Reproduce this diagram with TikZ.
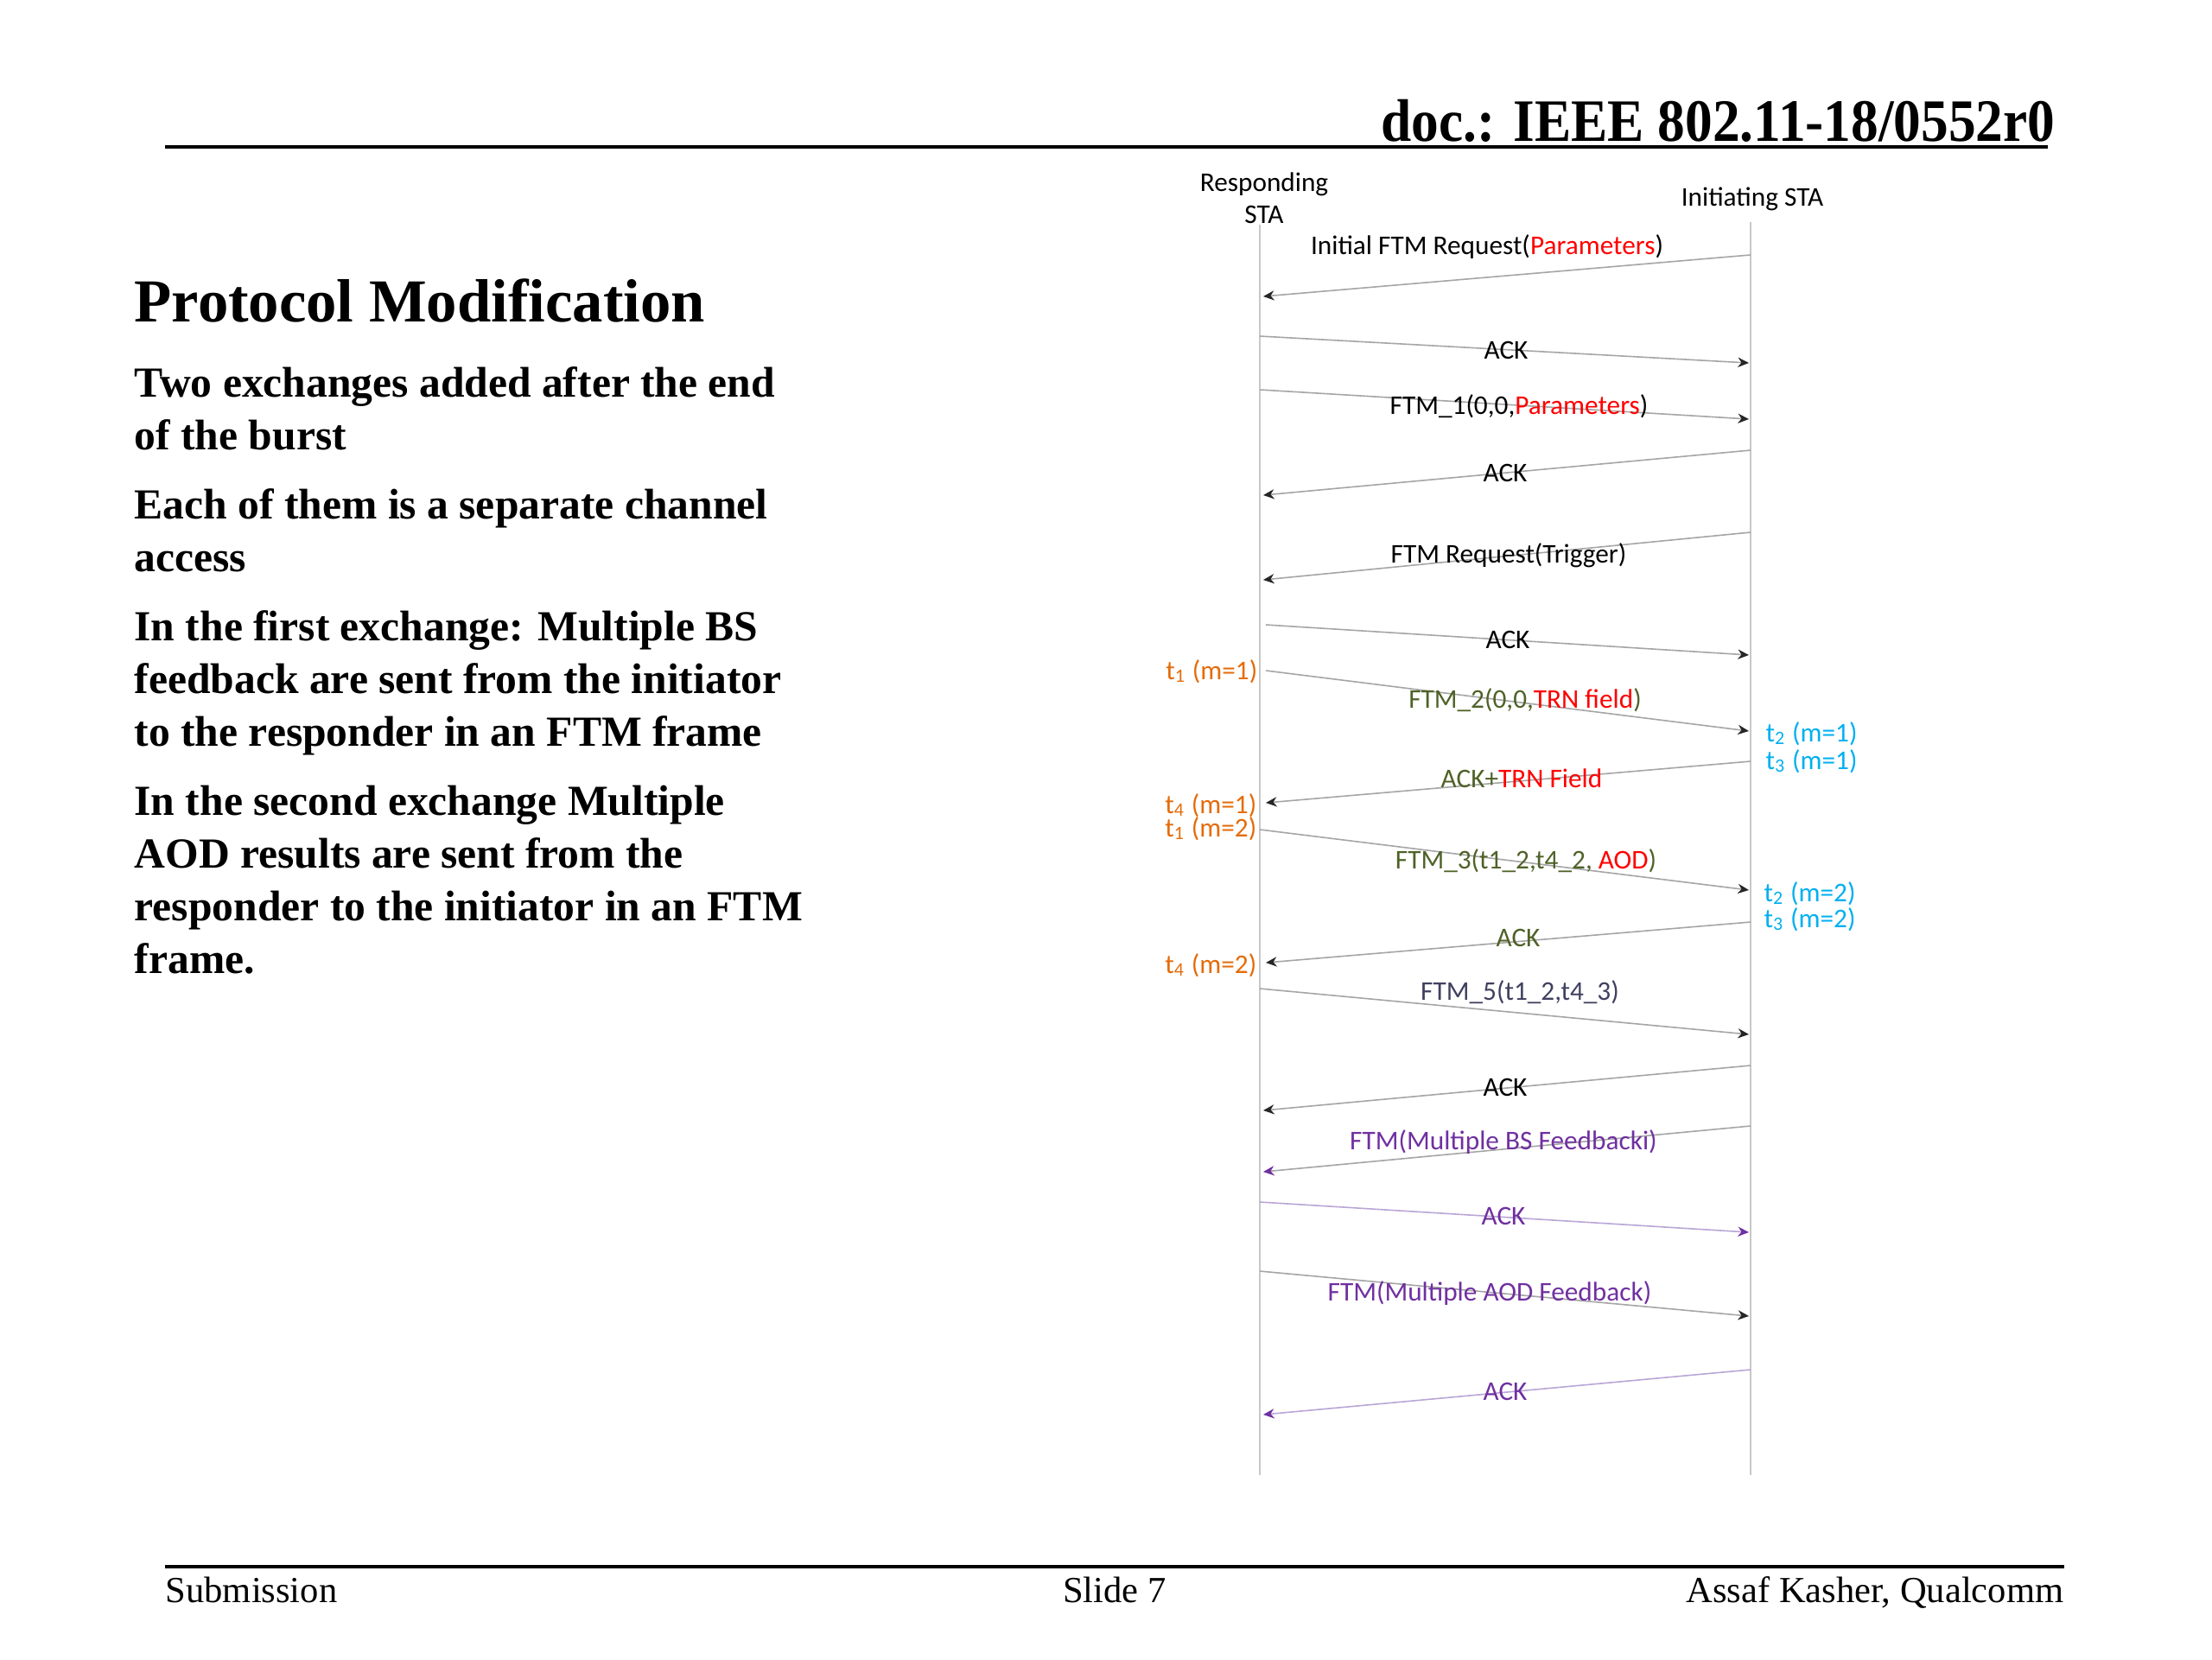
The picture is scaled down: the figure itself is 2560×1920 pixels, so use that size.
\documentclass[tikz,border=0pt]{standalone}
\usepackage{fontspec}
\setmainfont{Liberation Serif}
\newfontfamily\diagfont{Carlito}
\newfontfamily\narrowserif[FakeStretch=0.91]{Liberation Serif}
\usetikzlibrary{arrows.meta,positioning}

\definecolor{olivetxt}{RGB}{79,98,40}
\definecolor{orangetxt}{RGB}{228,108,10}
\definecolor{cyantxt}{RGB}{0,176,240}
\definecolor{slatetxt}{RGB}{64,64,96}
\definecolor{purpletxt}{RGB}{112,48,160}
\definecolor{lifegray}{RGB}{200,200,200}
\definecolor{msggray}{RGB}{165,165,165}
\definecolor{lilac}{RGB}{185,165,215}

\begin{document}
\begin{tikzpicture}[x=0.01cm, y=-0.01cm,
    lifeline/.style={draw=lifegray, line width=0.5pt},
    msg/.style={draw=msggray, line width=0.45pt, -{Stealth[length=3.6pt,width=3.2pt,color=black!85]}},
    msgpurple/.style={msg, -{Stealth[length=3.6pt,width=3.2pt,color=purpletxt]}},
    acklilac/.style={msgpurple, draw=lilac},
    lbl/.style={font=\diagfont\fontsize{8.9}{10.5}\selectfont, inner sep=0pt},
    stamp/.style={lbl},
    serif/.style={inner sep=0pt},
    rule/.style={line width=1.1pt}
]

\fill[white] (0,0) rectangle (2560,1920);
\useasboundingbox (0,0) rectangle (2560,1920);

% Header and footer
\node[serif, anchor=base east, font=\narrowserif\bfseries\fontsize{19.8}{23}\selectfont] (docid) at (2379,163) {doc.: IEEE 802.11-18/0552r0};
\coordinate (hdl) at (191,170);
\coordinate (hdr) at (2370,170);
\draw[rule] (hdl) -- (hdr);

\coordinate (ftl) at (191,1813);
\coordinate (ftr) at (2389,1813);
\draw[rule] (ftl) -- (ftr);
\node[serif, anchor=base west, font=\fontsize{12.1}{14}\selectfont] (submission) at (191,1854) {Submission};
\node[serif, anchor=base, font=\fontsize{12.1}{14}\selectfont] (slideno) at (1290,1854) {Slide 7};
\node[serif, anchor=base east, font=\fontsize{12.1}{14}\selectfont] (author) at (2389,1854) {Assaf Kasher, Qualcomm};

% Title and bullets (base = last line)
\node[serif, anchor=base west, font=\bfseries\fontsize{20.1}{24}\selectfont] (title) at (155,372) {Protocol Modification};
\node[serif, anchor=base west, align=left, font=\bfseries\fontsize{14.1}{17.3}\selectfont] (bullets) at (155,1126) {Two exchanges added after the end\\
of the burst\\[5.5pt]
Each of them is a separate channel\\
access\\[5.5pt]
In the first exchange: Multiple BS\\
feedback are sent from the initiator\\
to the responder in an FTM frame\\[5.5pt]
In the second exchange Multiple\\
AOD results are sent from the\\
responder to the initiator in an FTM\\
frame.};

% Stations
\node[lbl, align=center] (resp) at (1463,229) {Responding\\STA};
\node[lbl] (init) at (2028,230) {Initiating STA};
\coordinate (resptop) at (1458,260);
\coordinate (respbot) at (1458,1707);
\coordinate (inittop) at (2026,257);
\coordinate (initbot) at (2026,1707);
\draw[lifeline] (resptop) -- (respbot);
\draw[lifeline] (inittop) -- (initbot);

% Message end points
\coordinate (r1) at (2026,295);  \coordinate (l1) at (1462,343);
\coordinate (l2) at (1458,389);  \coordinate (r2) at (2024,420);
\coordinate (l3) at (1458,451);  \coordinate (r3) at (2024,485);
\coordinate (r4) at (2026,521);  \coordinate (l4) at (1462,573);
\coordinate (r5) at (2026,616);  \coordinate (l5) at (1462,671);
\coordinate (l6) at (1465,723);  \coordinate (r6) at (2024,758);
\coordinate (l7) at (1465,776);  \coordinate (r7) at (2024,846);
\coordinate (r8) at (2026,881);  \coordinate (l8) at (1465,929);
\coordinate (l9) at (1458,960);  \coordinate (r9) at (2024,1030);
\coordinate (r10) at (2026,1067); \coordinate (l10) at (1465,1114);
\coordinate (l11) at (1458,1144); \coordinate (r11) at (2024,1197);
\coordinate (r12) at (2026,1233); \coordinate (l12) at (1462,1285);
\coordinate (r13) at (2026,1303); \coordinate (l13) at (1462,1356);
\coordinate (l14) at (1458,1391); \coordinate (r14) at (2024,1426);
\coordinate (l15) at (1458,1471); \coordinate (r15) at (2024,1523);
\coordinate (r16) at (2026,1585); \coordinate (l16) at (1462,1637);

% Messages
\draw[msg] (r1) -- (l1);
\draw[msg] (l2) -- (r2);
\draw[msg] (l3) -- (r3);
\draw[msg] (r4) -- (l4);
\draw[msg] (r5) -- (l5);
\draw[msg] (l6) -- (r6);
\draw[msg] (l7) -- (r7);
\draw[msg] (r8) -- (l8);
\draw[msg] (l9) -- (r9);
\draw[msg] (r10) -- (l10);
\draw[msg] (l11) -- (r11);
\draw[msg] (r12) -- (l12);
\draw[msgpurple] (r13) -- (l13);
\draw[acklilac] (l14) -- (r14);
\draw[msg] (l15) -- (r15);
\draw[acklilac] (r16) -- (l16);

% Message labels
\node[lbl] (initreq) at (1721,286) {Initial FTM Request(\textcolor{red}{Parameters})};
\node[lbl] (ack1) at (1743,405) {ACK};
\node[lbl] (ftm1) at (1758,470) {FTM\_1(0,0,\textcolor{red}{Parameters})};
\node[lbl] (ack2) at (1742,547) {ACK};
\node[lbl] (trigger) at (1746,643) {FTM Request(Trigger)};
\node[lbl] (ack3) at (1745,740) {ACK};
\node[lbl, text=olivetxt] (ftm2) at (1765,810) {FTM\_2(0,0,\textcolor{red}{TRN field})};
\node[lbl, text=olivetxt] (acktrn) at (1761,901) {ACK+\textcolor{red}{TRN Field}};
\node[lbl, text=olivetxt] (ftm3) at (1766,996) {FTM\_3(t1\_2,t4\_2, \textcolor{red}{AOD})};
\node[lbl, text=olivetxt] (ack4) at (1757,1085) {ACK};
\node[lbl, text=slatetxt] (ftm5) at (1759,1148) {FTM\_5(t1\_2,t4\_3)};
\node[lbl] (ack5) at (1742,1258) {ACK};
\node[lbl, text=purpletxt] (bsfb) at (1740,1322) {FTM(Multiple BS Feedbacki)};
\node[lbl, text=purpletxt] (ack6) at (1740,1407) {ACK};
\node[lbl, text=purpletxt] (aodfb) at (1724,1497) {FTM(Multiple AOD Feedback)};
\node[lbl, text=purpletxt] (ack7) at (1742,1610) {ACK};

% Time stamps
\node[stamp, anchor=east, text=orangetxt] (t1a) at (1456,777) {t\textsubscript{1} (m=1)};
\node[stamp, anchor=east, text=orangetxt] (t4a) at (1455,932) {t\textsubscript{4} (m=1)};
\node[stamp, anchor=east, text=orangetxt] (t1b) at (1455,959) {t\textsubscript{1} (m=2)};
\node[stamp, anchor=east, text=orangetxt] (t4b) at (1455,1117) {t\textsubscript{4} (m=2)};
\node[stamp, anchor=west, text=cyantxt] (t2a) at (2043,849) {t\textsubscript{2} (m=1)};
\node[stamp, anchor=west, text=cyantxt] (t3a) at (2043,881) {t\textsubscript{3} (m=1)};
\node[stamp, anchor=west, text=cyantxt] (t2b) at (2041,1034) {t\textsubscript{2} (m=2)};
\node[stamp, anchor=west, text=cyantxt] (t3b) at (2041,1064) {t\textsubscript{3} (m=2)};

\end{tikzpicture}
\end{document}
